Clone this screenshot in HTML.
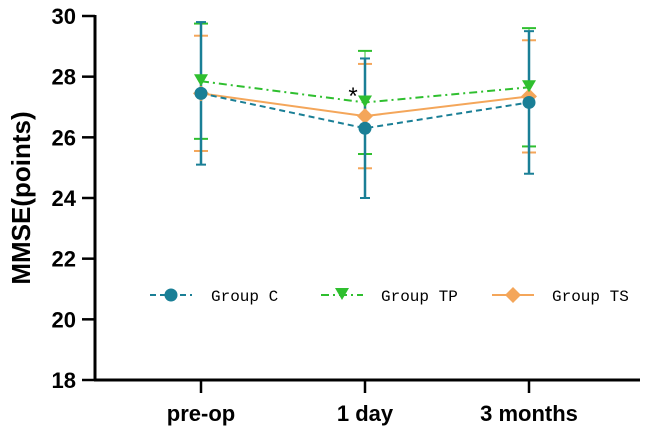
<!DOCTYPE html>
<html><head><meta charset="utf-8"><style>
body{margin:0;background:#fff}
svg{display:block}
</style></head><body>
<svg id="chart" width="648" height="435" viewBox="0 0 648 435">
<g id="axes"></g><g id="series"></g><g id="legend"></g>
</svg>
<script>
const categories=["pre-op","1 day","3 months"];
const groupC=[27.45,26.3,27.15];
const groupCsd=[2.35,2.3,2.35];
const groupTP=[27.85,27.15,27.65];
const groupTPsd=[1.9,1.7,1.95];
const groupTS=[27.45,26.7,27.35];
const groupTSsd=[1.9,1.72,1.85];
const yTicks=[18,20,22,24,26,28,30];
const NS="http://www.w3.org/2000/svg";
const y=v=>380-(v-18)*(364/12);
const x=i=>201+i*164;
function el(t,a,p){const e=document.createElementNS(NS,t);for(const k in a)e.setAttribute(k,a[k]);p.appendChild(e);return e;}
const ax=document.getElementById('axes');
const yl=el('line',{x1:95,y1:15,x2:95,y2:381,stroke:'#000','stroke-width':3},ax);


const xl=el('line',{x1:94,y1:380,x2:640,y2:380,stroke:'#000','stroke-width':3},ax);


yTicks.forEach(t=>{
 el('line',{x1:82,y1:y(t),x2:95,y2:y(t),stroke:'#000','stroke-width':2.5},ax);
 const tx=el('text',{x:76,y:y(t)+8,'text-anchor':'end','font-family':'Liberation Sans, sans-serif','font-size':22,'font-weight':'bold'},ax);
 tx.textContent=t;
 
 
});
categories.forEach((c,i)=>{
 el('line',{x1:x(i),y1:380,x2:x(i),y2:393,stroke:'#000','stroke-width':2.5},ax);
 const tx=el('text',{x:x(i),y:421,'text-anchor':'middle','font-family':'Liberation Sans, sans-serif','font-size':22,'font-weight':'bold'},ax);
 tx.textContent=c;
 
 
});
const yt=el('text',{transform:'translate(30,198) rotate(-90)','text-anchor':'middle','font-family':'Liberation Sans, sans-serif','font-size':26,'font-weight':'bold'},ax);
yt.textContent='MMSE(points)';


const sg=document.getElementById('series');
const defs=[
 {name:'group-ts',vals:groupTS,sd:groupTSsd,col:'#f4a65a',dash:'',marker:'diamond',w:1,cap:7},
 {name:'group-tp',vals:groupTP,sd:groupTPsd,col:'#2fbf2f',dash:'8 4 2 4',marker:'tri',w:1,cap:7},
 {name:'group-c',vals:groupC,sd:groupCsd,col:'#1a7f96',dash:'6 4',marker:'circle',w:2.5,cap:5}
];
function marker(type,cx,cy,col,p){
 if(type==='circle')return el('circle',{cx,cy,r:6.5,fill:col},p);
 if(type==='tri')return el('polygon',{points:`${cx-7},${cy-7} ${cx+7},${cy-7} ${cx},${cy+5}`,fill:col},p);
 return el('polygon',{points:`${cx},${cy-8} ${cx+8},${cy} ${cx},${cy+8} ${cx-8},${cy}`,fill:col},p);
}
defs.forEach(d=>{
 const g=el('g',{},sg);
 
 
 d.vals.forEach((v,i)=>{
  const e=el('g',{stroke:d.col,'stroke-width':2},g);
  
  
  el('line',{x1:x(i),y1:y(v+d.sd[i]),x2:x(i),y2:y(v-d.sd[i]),'stroke-width':d.w},e);
  el('line',{x1:x(i)-d.cap,y1:y(v+d.sd[i]),x2:x(i)+d.cap,y2:y(v+d.sd[i])},e);
  el('line',{x1:x(i)-d.cap,y1:y(v-d.sd[i]),x2:x(i)+d.cap,y2:y(v-d.sd[i])},e);
 });
});
defs.forEach(d=>{
 const g=el('g',{},sg);
 const pl=el('polyline',{points:d.vals.map((v,i)=>x(i)+','+y(v)).join(' '),fill:'none',stroke:d.col,'stroke-width':2,'stroke-dasharray':d.dash},g);
 
 
 d.vals.forEach((v,i)=>{
  const m=marker(d.marker,x(i),y(v),d.col,g);
  
  
 });
});
const star=el('text',{x:353,y:104,'text-anchor':'middle','font-family':'Liberation Sans, sans-serif','font-size':24},sg);
star.textContent='*';


const lg=document.getElementById('legend');
const leg=[
 {label:'Group C',col:'#1a7f96',dash:'6 4',marker:'circle',x:150,tx:211},
 {label:'Group TP',col:'#2fbf2f',dash:'8 4 2 4',marker:'tri',x:321,tx:381},
 {label:'Group TS',col:'#f4a65a',dash:'',marker:'diamond',x:492,tx:552}
];
leg.forEach(l=>{
 const g=el('g',{},lg);
 
 
 el('line',{x1:l.x,y1:295,x2:l.x+42,y2:295,stroke:l.col,'stroke-width':2,'stroke-dasharray':l.dash},g);
 marker(l.marker,l.x+21,295,l.col,g);
 const t=el('text',{x:l.tx,y:301,'font-family':'Liberation Mono, monospace','font-size':16},g);
 t.textContent=l.label;
});
</script>
</body></html>
